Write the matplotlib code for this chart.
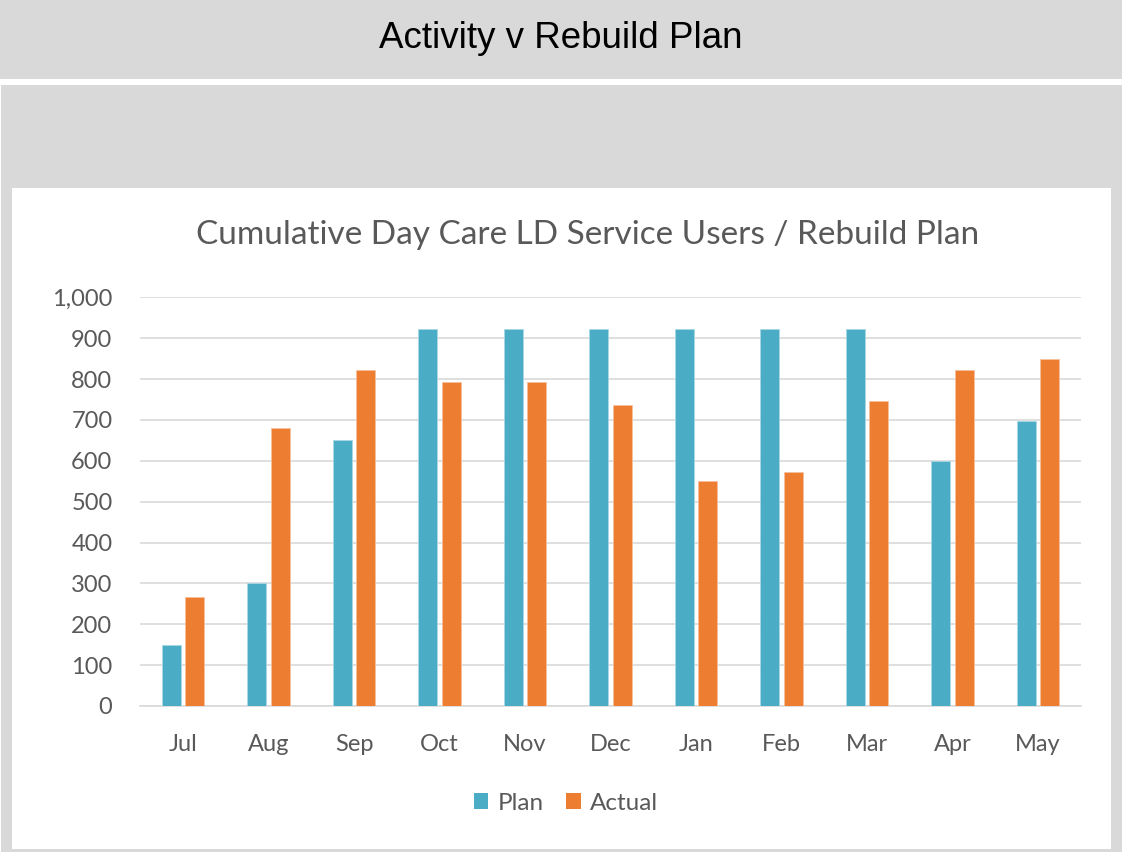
import matplotlib
matplotlib.use("Agg")
import matplotlib.pyplot as plt
from matplotlib.patches import Rectangle, Patch
import numpy as np

months = ["Jul", "Aug", "Sep", "Oct", "Nov", "Dec", "Jan", "Feb", "Mar", "Apr", "May"]
plan = [150, 300, 650, 922, 922, 922, 922, 922, 922, 600, 697]
actual = [267, 679, 821, 792, 792, 736, 550, 572, 747, 821, 849]
yticks = [0, 100, 200, 300, 400, 500, 600, 700, 800, 900, 1000]

W, H = 1122, 852
fig = plt.figure(figsize=(W / 100, H / 100), dpi=100)
fig.patch.set_facecolor("white")

GRAY = "#D9D9D9"
TEXT = "#595959"
PLAN_C = "#4BACC6"
ACT_C = "#ED7D31"
FONT = "Lato"


def px_rect(x0, y0, x1, y1, color):
    fig.patches.append(Rectangle((x0 / W, 1 - y1 / H), (x1 - x0) / W, (y1 - y0) / H,
                                 transform=fig.transFigure, facecolor=color,
                                 edgecolor="none", zorder=0))


# header band and chart panel
px_rect(0, 0, W, 78.7, GRAY)
px_rect(1, 85, W, H, GRAY)
px_rect(12, 188, 1111, 849, "white")

fig.text(561 / W, 1 - 38 / H, "Activity v Rebuild Plan", ha="center", va="center",
         fontsize=26.5, family="Liberation Sans", color="black", zorder=2)

fig.text(588 / W, 1 - 235 / H, "Cumulative Day Care LD Service Users / Rebuild Plan",
         ha="center", va="center", fontsize=24, family=FONT, color=TEXT, zorder=2)

left, right = 140.25 / W, 1080.75 / W
bottom, top = 1 - 706 / H, 1 - 297.3 / H
ax = fig.add_axes([left, bottom, right - left, top - bottom], zorder=1)
ax.set_facecolor("none")

x = np.arange(len(months))
bw = 0.222
off = 0.14
ax.bar(x - off, plan, width=bw, color=PLAN_C, edgecolor="#A8D8E6", linewidth=0.6,
       label="Plan", zorder=3)
ax.bar(x + off, actual, width=bw, color=ACT_C, edgecolor="#F6C09C", linewidth=0.6,
       label="Actual", zorder=3)

ax.set_xlim(-0.5, len(months) - 0.5)
ax.set_ylim(0, 1000)
ax.set_yticks(yticks)
ax.set_yticklabels([f"{v:,}" for v in yticks])
ax.set_xticks(x)
ax.set_xticklabels(months)
ax.grid(axis="y", color=GRAY, linewidth=1.2, zorder=0)
ax.set_axisbelow(True)
for s in ["top", "right", "left"]:
    ax.spines[s].set_visible(False)
ax.spines["bottom"].set_color(GRAY)
ax.spines["bottom"].set_linewidth(1.2)
ax.tick_params(axis="both", length=0, colors=TEXT, labelsize=17)
ax.tick_params(axis="y", pad=20)
ax.tick_params(axis="x", pad=20)
for lbl in ax.get_xticklabels() + ax.get_yticklabels():
    lbl.set_family(FONT)

handles = [Patch(facecolor=PLAN_C, label="Plan"), Patch(facecolor=ACT_C, label="Actual")]
leg = fig.legend(handles=handles, loc="center", bbox_to_anchor=(566 / W, 1 - 803 / H),
                 ncol=2, frameon=False, handlelength=0.6, handleheight=0.6,
                 handletextpad=0.4, columnspacing=0.9, labelcolor=TEXT,
                 prop={"family": FONT, "size": 17.5})
leg.set_zorder(2)

fig.savefig("out.png", dpi=100, facecolor=fig.get_facecolor())
